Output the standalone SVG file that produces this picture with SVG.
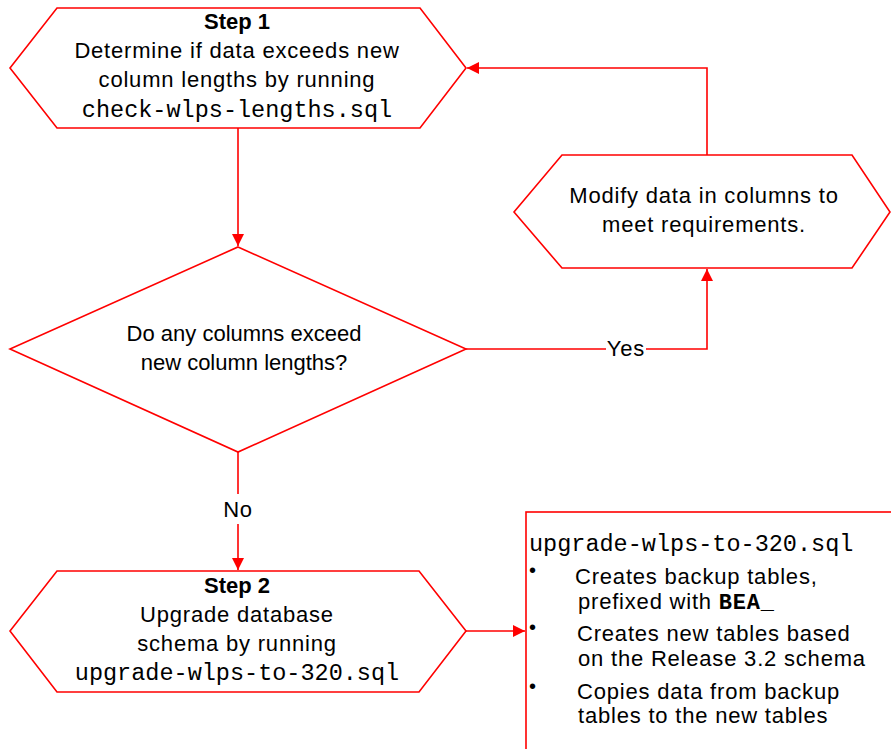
<svg xmlns="http://www.w3.org/2000/svg" width="891" height="749" viewBox="0 0 891 749">
<style>
.shape{fill:#fff;stroke:#ff0000;stroke-width:1.6}
.conn{fill:none;stroke:#ff0000;stroke-width:1.6}
.t{font-family:"Liberation Sans",Arial,sans-serif;font-size:22px;fill:#000;letter-spacing:0.8px}
.b{font-family:"Liberation Sans",Arial,sans-serif;font-size:22px;font-weight:bold;fill:#000}
.m{font-family:"Liberation Mono","Courier New",monospace;font-size:23.5px;fill:#000}
.bul{font-family:"Liberation Sans",Arial,sans-serif;font-size:20px;fill:#000}
.mid{text-anchor:middle}
</style>
<defs>
<marker id="arr" markerUnits="userSpaceOnUse" markerWidth="14" markerHeight="14" refX="12" refY="6" orient="auto">
<path d="M0,0 L12,6 L0,12 z" fill="#ff0000"/>
</marker>
</defs>
<rect width="891" height="749" fill="#fff"/>
<g id="connectors">
<path class="conn" d="M238,128 V246" marker-end="url(#arr)"/>
<path class="conn" d="M466,349 H707 V269" marker-end="url(#arr)"/>
<path class="conn" d="M707,155 V68 H467" marker-end="url(#arr)"/>
<path class="conn" d="M238,452 V570" marker-end="url(#arr)"/>
<path class="conn" d="M466,631 H525" marker-end="url(#arr)"/>
<rect x="606" y="338" width="40" height="22" fill="#fff"/>
<text class="t mid" x="626" y="356">Yes</text>
<rect x="222" y="494" width="32" height="30" fill="#fff"/>
<text class="t mid" x="238" y="517">No</text>
</g>
<g id="step1">
<polygon class="shape" points="57,8 420,8 466,68 420,128 57,128 10,68"/>
<text class="b mid" x="237" y="29">Step 1</text>
<text class="t mid" x="237" y="58">Determine if data exceeds new</text>
<text class="t mid" x="237" y="87">column lengths by running</text>
<text class="m mid" x="237" y="117">check-wlps-lengths.sql</text>
</g>
<g id="modify">
<polygon class="shape" points="562,155 852,155 890,212 852,268 562,268 514,212"/>
<text class="t mid" x="704" y="203">Modify data in columns to</text>
<text class="t mid" x="704" y="232">meet requirements.</text>
</g>
<g id="decision">
<polygon class="shape" points="238,247 466,349 238,452 10,349"/>
<text class="t mid" x="244" y="341" style="letter-spacing:0">Do any columns exceed</text>
<text class="t mid" x="244" y="370" style="letter-spacing:0">new column lengths?</text>
</g>
<g id="step2">
<polygon class="shape" points="57,571 419,571 466,631 419,692 57,692 10,631"/>
<text class="b mid" x="237" y="593">Step 2</text>
<text class="t mid" x="237" y="622">Upgrade database</text>
<text class="t mid" x="237" y="651">schema by running</text>
<text class="m mid" x="237" y="680">upgrade-wlps-to-320.sql</text>
</g>
<g id="note">
<rect class="shape" x="526" y="512" width="380" height="250"/>
<text class="m" x="529" y="551">upgrade-wlps-to-320.sql</text>
<text class="bul" x="529" y="577">•</text>
<text class="t" x="575" y="584">Creates backup tables,</text>
<text class="t" x="578" y="609">prefixed with <tspan class="m" style="font-weight:bold;font-size:22px">BEA_</tspan></text>
<text class="bul" x="529" y="634">•</text>
<text class="t" x="577" y="641">Creates new tables based</text>
<text class="t" x="578" y="666">on the Release 3.2 schema</text>
<text class="bul" x="529" y="693">•</text>
<text class="t" x="577" y="699">Copies data from backup</text>
<text class="t" x="578" y="723">tables to the new tables</text>
</g>
</svg>
